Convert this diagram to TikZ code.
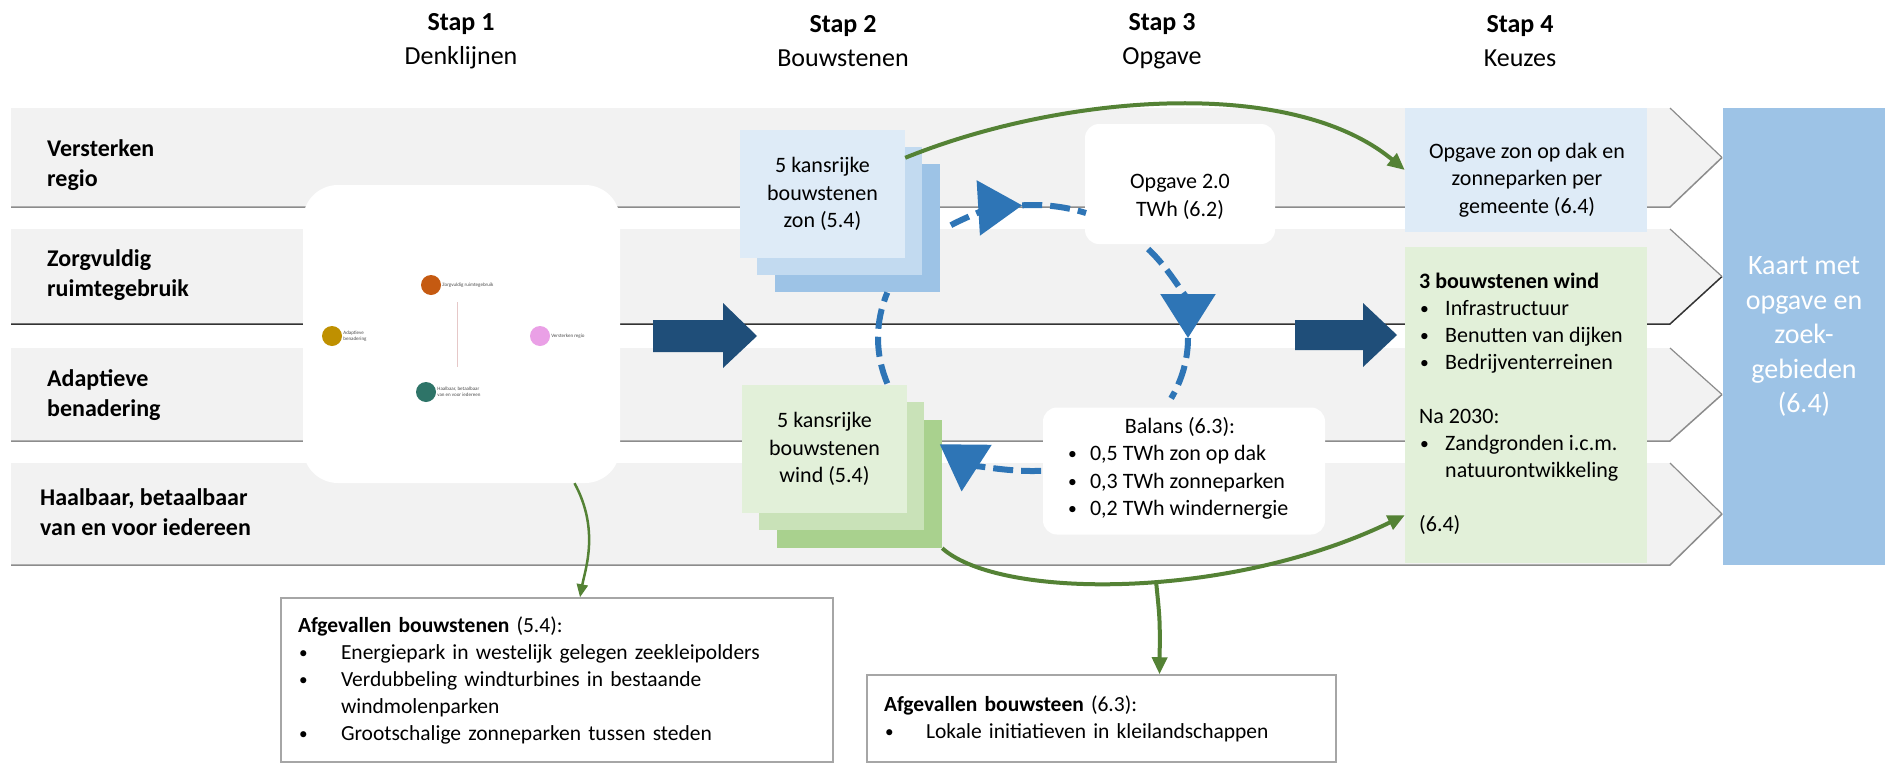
\documentclass[tikz,border=0pt]{standalone}
\usepackage{fontspec}
\setmainfont{Carlito}
\usetikzlibrary{arrows.meta}

\definecolor{bandgray}{HTML}{F2F2F2}
\definecolor{bandline}{HTML}{8C8C8C}
\definecolor{navyblue}{HTML}{1F4E79}
\definecolor{cycblue}{HTML}{2E75B6}
\definecolor{arrgreen}{HTML}{548235}
\definecolor{zonlight}{HTML}{DEEBF7}
\definecolor{zonmid}{HTML}{C2DAF0}
\definecolor{zondark}{HTML}{9DC3E6}
\definecolor{windlight}{HTML}{E2F0D9}
\definecolor{windmid}{HTML}{C9E2B8}
\definecolor{winddark}{HTML}{A9D18E}
\definecolor{kaartblue}{HTML}{9DC3E6}

\newcommand{\bul}[1]{\makebox[#1][l]{\hspace{1pt}\raisebox{1pt}{\scalebox{0.8}{\textbullet}}}}

\begin{document}
\begin{tikzpicture}[x=1pt, y=1pt,
  txt/.style={font=\fontsize{22}{27.5}\selectfont, align=center, inner sep=0pt},
  bandtxt/.style={font=\fontsize{24}{30}\selectfont\bfseries, align=left, anchor=west, inner sep=0pt},
  steptxt/.style={font=\fontsize{26}{34}\selectfont, align=center, inner sep=0pt},
  sq/.style={minimum width=165pt, minimum height=128pt, inner sep=0pt},
  whitebox/.style={fill=white, rounded corners=14pt, inner sep=0pt},
  dot/.style={circle, minimum size=20pt, inner sep=0pt},
  tinytxt/.style={font=\fontsize{5}{6}\selectfont, text=black!70, align=left, anchor=west, inner sep=1pt},
  cycdash/.style={draw=cycblue, line width=6pt, dash pattern=on 20pt off 8pt},
  cyctip/.style={-{Triangle[length=44pt,width=54pt]}},
  greenarr/.style={draw=arrgreen, line width=4pt, -{Triangle[length=17pt,width=15pt]}},
  afgevbox/.style={draw=black!35, line width=1.5pt, fill=white, inner xsep=17pt, inner ysep=0pt, align=left, font=\fontsize{21.5}{27}\selectfont}]

\fill[white] (0,0) rectangle (1888,-763);
\useasboundingbox (0,0) rectangle (1888,-763);

% bands
\foreach \top/\bot/\edge in {108/207/bandline, 229/324/black!80, 348/441/bandline, 463/565/bandline} {
  \fill[bandgray] (11,-\top) -- (1670,-\top) -- (1722,{-(\top+\bot)/2}) -- (1670,-\bot) -- (11,-\bot) -- cycle;
  \draw[\edge, line width=1.5pt] (11,-\bot) -- (1670,-\bot) -- (1722,{-(\top+\bot)/2});
  \draw[bandline, line width=1.2pt] (1722,{-(\top+\bot)/2}) -- (1670,-\top);
}

% step headers
\node[steptxt] (stap1) at (461,-41) {\textbf{Stap 1}\\Denklijnen};
\node[steptxt] (stap2) at (843,-41) {\textbf{Stap 2}\\Bouwstenen};
\node[steptxt] (stap3) at (1162,-41) {\textbf{Stap 3}\\Opgave};
\node[steptxt] (stap4) at (1520,-41) {\textbf{Stap 4}\\Keuzes};

% band labels
\node[bandtxt] (versterken) at (47,-165) {Versterken\\regio};
\node[bandtxt] (zorgvuldig) at (47,-275) {Zorgvuldig\\ruimtegebruik};
\node[bandtxt] (adaptief) at (47,-395) {Adaptieve\\benadering};
\node[bandtxt] (haalbaar) at (40,-512) {Haalbaar, betaalbaar\\van en voor iedereen};

% stap 1
\node[fill=white, rounded corners=35pt, minimum width=317pt, minimum height=298pt] (denk) at (461.5,-334) {};
\draw[draw={rgb,255:red,230;green,200;blue,200}, line width=1pt] (457,-302) -- (457,-367);
\node[dot, fill={rgb,255:red,191;green,144;blue,0}] (dot1) at (332,-336) {};
\node[dot, fill={rgb,255:red,197;green,90;blue,17}] (dot2) at (431,-285) {};
\node[dot, fill={rgb,255:red,234;green,160;blue,230}] (dot3) at (540,-336) {};
\node[dot, fill={rgb,255:red,46;green,116;blue,104}] (dot4) at (426,-392) {};
\node[tinytxt] at (dot1.east) {Adaptieve\\benadering};
\node[tinytxt] at (dot2.east) {Zorgvuldig ruimtegebruik};
\node[tinytxt] at (dot3.east) {Versterken regio};
\node[tinytxt] at (dot4.east) {Haalbaar, betaalbaar\\van en voor iedereen};

% stap 2
\node[sq, fill=zondark] (zonback) at (857.5,-228) {};
\node[sq, fill=zonmid] (zonmid) at (839.5,-211) {};
\node[sq, fill=zonlight] (zonfront) at (822.5,-194) {};
\node[txt] at (zonfront.center) {5 kansrijke\\bouwstenen\\zon (5.4)};
\node[sq, fill=winddark] (windback) at (859.5,-484) {};
\node[sq, fill=windmid] (windmid) at (841.5,-466) {};
\node[sq, fill=windlight] (windfront) at (824.5,-449) {};
\node[txt] at (windfront.center) {5 kansrijke\\bouwstenen\\wind (5.4)};

% stap 3
\node[whitebox, minimum width=190pt, minimum height=120pt] (opgave) at (1180,-184) {};
\node[txt] at ([yshift=-13pt]opgave.center) {Opgave 2.0\\TWh (6.2)};
\node[whitebox, minimum width=282pt, minimum height=127pt] (balans) at (1184,-471) {};
\node[txt] at (1180,-468.5) {Balans (6.3):\\
  \makebox[226pt][l]{\bul{23pt}0,5 TWh zon op dak}\\
  \makebox[226pt][l]{\bul{23pt}0,3 TWh zonneparken}\\
  \makebox[226pt][l]{\bul{23pt}0,2 TWh windernergie}};

% stap 4
\node[fill=zonlight, minimum width=242pt, minimum height=124pt, inner sep=0pt] (zonkeuze) at (1526,-170) {};
\node[txt] at (1527,-180) {Opgave zon op dak en\\zonneparken per\\gemeente (6.4)};
\node[fill=windlight, minimum width=242pt, minimum height=316pt, inner sep=0pt] (windkeuze) at (1526,-405) {};
\node[txt, align=left, anchor=west, font=\fontsize{22}{27}\selectfont] at (1419,-404) {\textbf{3 bouwstenen wind}\\
  \bul{26pt}Infrastructuur\\
  \bul{26pt}Benutten van dijken\\
  \bul{26pt}Bedrijventerreinen\\[27pt]
  Na 2030:\\
  \bul{26pt}Zandgronden i.c.m.\\
  \hspace*{26pt}natuurontwikkeling\\[27pt]
  (6.4)};
\node[fill=kaartblue, minimum width=162pt, minimum height=457pt, inner sep=0pt, text=white,
  font=\fontsize{28}{34.5}\selectfont, align=center] (kaart) at (1804,-336.5) {Kaart met\\opgave en\\zoek-\\gebieden\\(6.4)};

% afgevallen
\node[afgevbox, text width=518pt, minimum height=164pt] (afgev1) at (557,-680) {\textbf{Afgevallen bouwstenen} (5.4):\\
  \bul{43pt}Energiepark in westelijk gelegen zeekleipolders\\
  \bul{43pt}Verdubbeling windturbines in bestaande\\
  \hspace*{43pt}windmolenparken\\
  \bul{43pt}Grootschalige zonneparken tussen steden};
\node[afgevbox, text width=435pt, minimum height=87pt] (afgev2) at (1101.5,-718.5) {\textbf{Afgevallen bouwsteen} (6.3):\\
  \bul{42pt}Lokale initiatieven in kleilandschappen};

% big arrows
\fill[navyblue] (653,-320) -- (723,-320) -- (723,-303) -- (757,-336) -- (723,-368) -- (723,-352) -- (653,-352) -- cycle;
\fill[navyblue] (1295,-320) -- (1363,-320) -- (1363,-303) -- (1397,-335) -- (1363,-367) -- (1363,-350) -- (1295,-350) -- cycle;

% cycle
\coordinate (cyc) at (1033,-338);
\draw[cycdash, cyctip] ([shift={(122:155pt and 133pt)}]cyc) arc[start angle=122, end angle=94, x radius=155pt, y radius=133pt];
\draw[cycdash] ([shift={(94:155pt and 133pt)}]cyc) arc[start angle=94, end angle=70, x radius=155pt, y radius=133pt];
\draw[cycdash, cyctip] ([shift={(42:155pt and 133pt)}]cyc) arc[start angle=42, end angle=0, x radius=155pt, y radius=133pt];
\draw[cycdash] ([shift={(0:155pt and 133pt)}]cyc) arc[start angle=0, end angle=-27, x radius=155pt, y radius=133pt];
\draw[cycdash, cyctip] ([shift={(-87:155pt and 133pt)}]cyc) arc[start angle=-87, end angle=-127, x radius=155pt, y radius=133pt];
\draw[cycdash] ([shift={(200:155pt and 133pt)}]cyc) arc[start angle=200, end angle=160, x radius=155pt, y radius=133pt];

% green arrows
\draw[greenarr] ([yshift=-28pt]zonfront.north east) .. controls (1060,-95) and (1290,-75) .. (zonkeuze.west);
\draw[greenarr] (windback.south east) .. controls (1000,-600) and (1230,-600) .. coordinate[pos=0.55] (split) ([yshift=48pt]windkeuze.south west);
\draw[greenarr] (split) .. controls (1160,-620) .. ([xshift=58pt]afgev2.north);
\draw[greenarr, line width=2.5pt, -{Triangle[length=13pt,width=11pt]}] ([xshift=113pt]denk.south) .. controls (600,-530) and (585,-570) .. ([xshift=23pt]afgev1.north);
\end{tikzpicture}
\end{document}
